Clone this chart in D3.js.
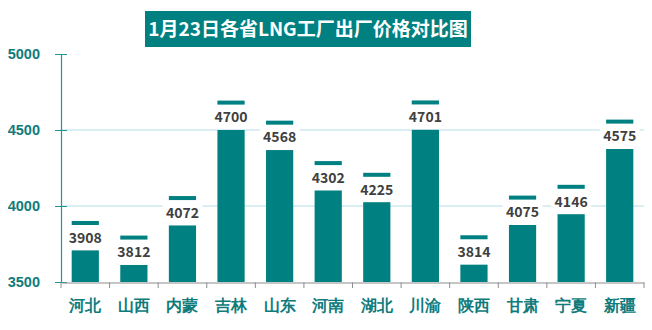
<!DOCTYPE html>
<html><head><meta charset="utf-8">
<script src="https://cdn.jsdelivr.net/npm/d3@7"></script>
<style>body{margin:0;background:#fff;}svg{display:block;font-family:"Noto Sans CJK SC","Noto Sans",sans-serif;}</style>
</head><body>
<svg id="c" width="652" height="330"></svg>
<script>
const title = "1月23日各省LNG工厂出厂价格对比图";
const categories = ["河北","山西","内蒙","吉林","山东","河南","湖北","川渝","陕西","甘肃","宁夏","新疆"];
const values = [3908,3812,4072,4700,4568,4302,4225,4701,3814,4075,4146,4575];
const barOffset = 200;
const yTicks = [3500,4000,4500,5000];

const svg = d3.select("#c");
const teal = "#008080";
const x = d3.scaleBand().domain(categories).range([61,644]).paddingInner(0.44).paddingOuter(0.22);
const y = d3.scaleLinear().domain([3500,5000]).range([282,54]);

// gridlines
svg.append("g").selectAll("line").data([4000,4500]).join("line")
  .attr("x1",61).attr("x2",644).attr("y1",d=>y(d)).attr("y2",d=>y(d))
  .attr("stroke","#b4dde6").attr("stroke-width",1);

// bars
svg.append("g").selectAll("rect").data(values).join("rect")
  .attr("x",(d,i)=>x(categories[i])).attr("width",x.bandwidth())
  .attr("y",d=>y(d-barOffset)).attr("height",d=>y(3500)-y(d-barOffset))
  .attr("fill",teal);

// markers
svg.append("g").selectAll("rect").data(values).join("rect")
  .attr("x",(d,i)=>x(categories[i])).attr("width",x.bandwidth())
  .attr("y",d=>y(d)+1).attr("height",4).attr("fill",teal);

// labels
const lab = svg.append("g").selectAll("g").data(values).join("g")
  .attr("transform",(d,i)=>`translate(${x(categories[i])+x.bandwidth()/2},${(y(d)+5+y(d-barOffset))/2})`);
lab.append("rect").attr("x",-20).attr("y",-9).attr("width",40).attr("height",18).attr("fill","#fff");
lab.append("text").attr("text-anchor","middle").attr("dy","0.36em")
  .attr("font-size",14).attr("font-weight","bold").attr("fill","#404040").text(d=>d);

// y axis
const ya = svg.append("g").attr("transform","translate(61,0)")
  .call(d3.axisLeft(y).tickValues(yTicks).tickFormat(d3.format("d")).tickSize(6).tickPadding(14));
ya.select(".domain").attr("stroke","#1a9696").attr("stroke-width",1.2);
ya.selectAll(".tick line").attr("stroke","#1a9696").attr("x2",6).attr("x1",-6);
ya.selectAll(".tick text").attr("font-size",14.5).attr("font-weight","bold").attr("fill","#0f7b7b")
  .attr("x",-21).attr("font-family","Liberation Sans, Arial, sans-serif");

// x axis
const xa = svg.append("g").attr("transform","translate(0,282.5)")
  .call(d3.axisBottom(x).tickSize(0).tickPadding(17));
xa.select(".domain").attr("stroke","#8c8c8c");
xa.selectAll(".tick text").attr("font-size",16).attr("font-weight","bold").attr("fill","#0f7b7b");
const bounds = categories.map(c=>x(c)-x.step()*x.paddingInner()/2).concat([644]);
svg.append("g").selectAll("line").data(bounds).join("line")
  .attr("x1",d=>d).attr("x2",d=>d).attr("y1",282.5).attr("y2",288)
  .attr("stroke","#8c8c8c");

// title
svg.append("rect").attr("x",145).attr("y",11).attr("width",326).attr("height",36).attr("fill",teal);
svg.append("text").attr("x",308).attr("y",29).attr("dy","0.36em").attr("text-anchor","middle")
  .attr("font-size",19).attr("font-weight","bold").attr("fill","#fff").text(title);
</script>
</body></html>
